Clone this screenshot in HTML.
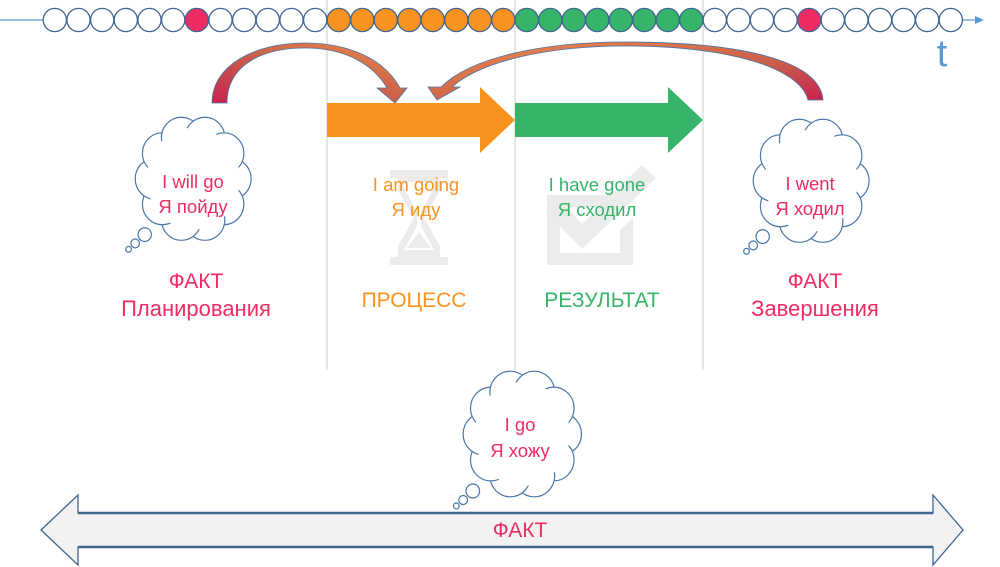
<!DOCTYPE html>
<html><head><meta charset="utf-8"><style>
html,body{margin:0;padding:0;background:#fff;}
svg{display:block;font-family:"Liberation Sans","DejaVu Sans",sans-serif;}
</style></head><body>
<svg width="1000" height="567" viewBox="0 0 1000 567" xmlns="http://www.w3.org/2000/svg">
<defs>
<linearGradient id="gl" x1="0" y1="1" x2="1" y2="0"><stop offset="0" stop-color="#c8234f"/><stop offset="0.5" stop-color="#c9604a"/><stop offset="1" stop-color="#f08a4b"/></linearGradient>
<linearGradient id="gr" x1="0" y1="0" x2="1" y2="1"><stop offset="0" stop-color="#f08a4b"/><stop offset="0.6" stop-color="#c9604a"/><stop offset="1" stop-color="#c8234f"/></linearGradient>
<g id="cloud">
<g fill="#fff" stroke="#4a76a8" stroke-width="1.2">
<circle cx="97" cy="62" r="21" vector-effect="non-scaling-stroke"/><circle cx="89.4" cy="87.9" r="21" vector-effect="non-scaling-stroke"/><circle cx="69.4" cy="103.8" r="21" vector-effect="non-scaling-stroke"/><circle cx="44.6" cy="103.8" r="21" vector-effect="non-scaling-stroke"/><circle cx="24.6" cy="87.9" r="21" vector-effect="non-scaling-stroke"/><circle cx="17" cy="62" r="21" vector-effect="non-scaling-stroke"/><circle cx="24.6" cy="36.1" r="21" vector-effect="non-scaling-stroke"/><circle cx="44.6" cy="20.2" r="21" vector-effect="non-scaling-stroke"/><circle cx="69.4" cy="20.2" r="21" vector-effect="non-scaling-stroke"/><circle cx="89.4" cy="36.1" r="21" vector-effect="non-scaling-stroke"/>
<circle cx="6" cy="119" r="7" vector-effect="non-scaling-stroke"/><circle cx="-4" cy="128" r="4.5" vector-effect="non-scaling-stroke"/><circle cx="-11" cy="134" r="3" vector-effect="non-scaling-stroke"/>
</g>
<ellipse cx="57" cy="62" rx="49" ry="52" fill="#fff"/>
</g>
</defs>
<g stroke="#d6d6d6" stroke-width="1.2"><line x1="327" y1="0" x2="327" y2="370"/><line x1="515" y1="0" x2="515" y2="370"/><line x1="703" y1="0" x2="703" y2="370"/></g>
<line x1="0" y1="20" x2="975" y2="20" stroke="#5b9bd5" stroke-width="1.2"/>
<polygon points="975,16 984,20 975,24" fill="#5b9bd5"/>
<g stroke="#3f6591" stroke-width="1.3">
<g fill="#fff">
<circle cx="54.8" cy="20" r="11.6"/><circle cx="78.5" cy="20" r="11.6"/><circle cx="102.2" cy="20" r="11.6"/><circle cx="125.8" cy="20" r="11.6"/><circle cx="149.5" cy="20" r="11.6"/><circle cx="173.2" cy="20" r="11.6"/><circle cx="220.5" cy="20" r="11.6"/><circle cx="244.2" cy="20" r="11.6"/><circle cx="267.8" cy="20" r="11.6"/><circle cx="291.5" cy="20" r="11.6"/><circle cx="315.2" cy="20" r="11.6"/>
<circle cx="714.8" cy="20" r="11.6"/><circle cx="738.4" cy="20" r="11.6"/><circle cx="762" cy="20" r="11.6"/><circle cx="785.6" cy="20" r="11.6"/><circle cx="832.8" cy="20" r="11.6"/><circle cx="856.4" cy="20" r="11.6"/><circle cx="880" cy="20" r="11.6"/><circle cx="903.6" cy="20" r="11.6"/><circle cx="927.2" cy="20" r="11.6"/><circle cx="950.8" cy="20" r="11.6"/>
</g>
<circle cx="196.8" cy="20" r="11.6" fill="#f02d63"/><circle cx="809.2" cy="20" r="11.6" fill="#f02d63"/>
<g fill="#f7931e"><circle cx="338.8" cy="20" r="11.6"/><circle cx="362.3" cy="20" r="11.6"/><circle cx="385.8" cy="20" r="11.6"/><circle cx="409.3" cy="20" r="11.6"/><circle cx="432.8" cy="20" r="11.6"/><circle cx="456.3" cy="20" r="11.6"/><circle cx="479.8" cy="20" r="11.6"/><circle cx="503.3" cy="20" r="11.6"/></g>
<g fill="#35b46a"><circle cx="526.8" cy="20" r="11.6"/><circle cx="550.3" cy="20" r="11.6"/><circle cx="573.8" cy="20" r="11.6"/><circle cx="597.3" cy="20" r="11.6"/><circle cx="620.8" cy="20" r="11.6"/><circle cx="644.3" cy="20" r="11.6"/><circle cx="667.8" cy="20" r="11.6"/><circle cx="691.3" cy="20" r="11.6"/></g>
</g>
<text x="942" y="66" font-size="38" fill="#5b9bd5" text-anchor="middle">t</text>
<path d="M212,103 C212,65 255,43 305,43 C350,43 385,60 400,88 L407,88 L395,103 L377,88 L387,88 C373,64 345,48 305,48 C262,48 227,65 227,103 Z" fill="url(#gl)" stroke="#4a76a8" stroke-width="0.8"/>
<path d="M823,100 C820,60 740,42 625,42 C540,42 470,58 441,87 L428,87 L437,100 L460,87 L452,87 C480,62 545,46 625,46 C730,46 800,68 808,100 Z" fill="url(#gr)" stroke="#4a76a8" stroke-width="0.8"/>
<polygon points="327,103 480,103 480,87 515,120 480,153 480,137 327,137" fill="#f7931e"/>
<polygon points="515,103 668,103 668,87 703,120 668,153 668,137 515,137" fill="#35b46a"/>
<g fill="#ebebeb">
<rect x="390" y="170" width="58" height="8"/><rect x="390" y="257" width="58" height="8"/>
<path d="M398,178 L440,178 L440,190 L424,218 L440,246 L440,257 L398,257 L398,246 L414,218 L398,190 Z"/>
</g>
<path d="M404,182 L434,182 L434,188 L421,212 L421,226 L434,250 L404,250 L417,226 L417,212 L404,188 Z" fill="#fff"/>
<path d="M407,248 L419,232 L431,248 Z" fill="#ebebeb"/>
<path d="M547,195 L620,195 L620,207 L560,207 L560,253 L620,253 L620,230 L633,218 L633,265 L547,265 Z" fill="#ebebeb"/>
<path d="M546,212 L560,200 L582,224 L642,165 L656,178 L582,249 Z" fill="#ebebeb"/>
<g font-size="18.5" text-anchor="middle">
<text x="416" y="191" fill="#f7931e">I am going</text><text x="416" y="216" fill="#f7931e">Я иду</text>
<text x="597" y="191" fill="#35b46a">I have gone</text><text x="597" y="216" fill="#35b46a">Я сходил</text>
</g>
<g font-size="21" text-anchor="middle">
<text x="196" y="288" fill="#ee2c62">ФАКТ</text><text x="196" y="316" fill="#ee2c62" font-size="22">Планирования</text>
<text x="414" y="307" fill="#f7931e">ПРОЦЕСС</text>
<text x="602" y="307" fill="#35b46a">РЕЗУЛЬТАТ</text>
<text x="815" y="288" fill="#ee2c62">ФАКТ</text><text x="815" y="316" fill="#ee2c62" font-size="22">Завершения</text>
</g>
<use href="#cloud" transform="translate(139,118) scale(0.95,0.98)"/>
<use href="#cloud" transform="translate(757,120) scale(0.95,0.98)"/>
<g font-size="18.5" text-anchor="middle" fill="#ee2c62">
<text x="193" y="188">I will go</text><text x="193" y="213">Я пойду</text>
<text x="810" y="190">I went</text><text x="810" y="215">Я ходил</text>
</g>
<polygon points="41,530 78,495 78,513 933,513 933,495 963,530 933,565 933,547 78,547 78,565" fill="#f2f2f2" stroke="#3f6591" stroke-width="1.3"/>
<line x1="78" y1="513" x2="933" y2="513" stroke="#3f6591" stroke-width="2.5"/>
<line x1="78" y1="547" x2="933" y2="547" stroke="#3f6591" stroke-width="2.5"/>
<use href="#cloud" transform="translate(467,372) scale(0.97,1.0)"/>
<g font-size="18.5" text-anchor="middle" fill="#ee2c62">
<text x="520" y="431">I go</text><text x="520" y="457">Я хожу</text>
</g>
<text x="520" y="537" font-size="21" text-anchor="middle" fill="#ee2c62">ФАКТ</text>
</svg>
</body></html>
